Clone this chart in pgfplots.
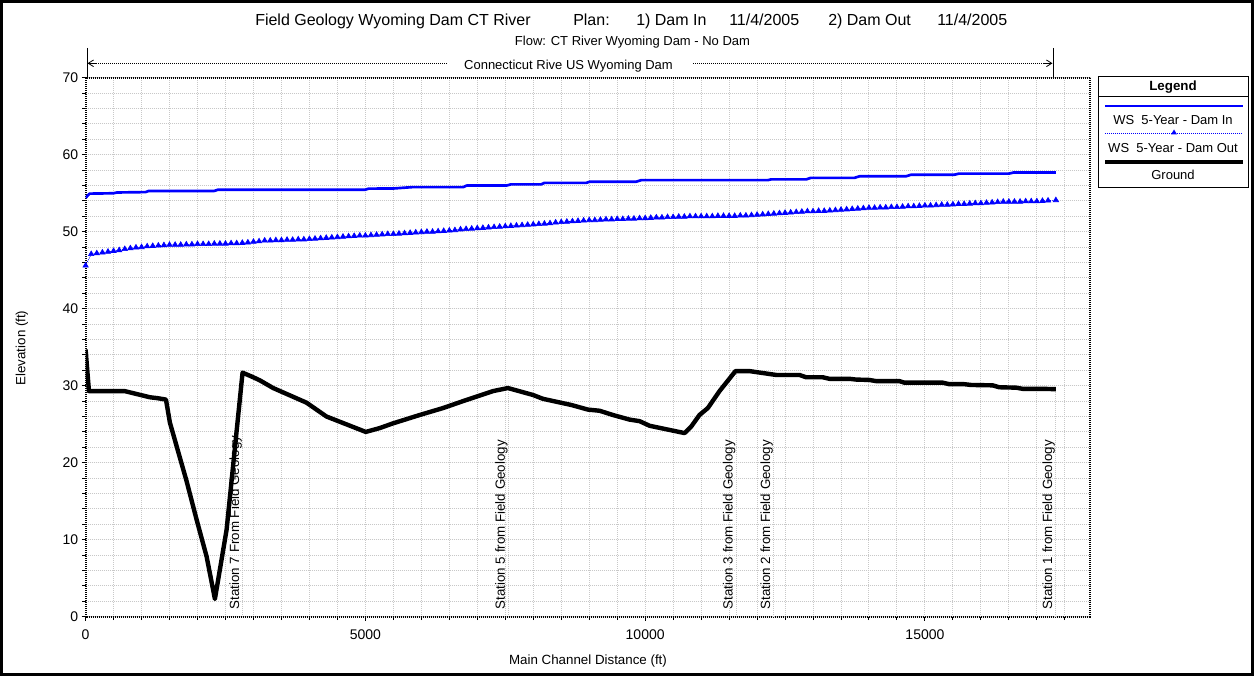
\documentclass[border=0pt]{standalone}
\usepackage{pgfplots}
\pgfplotsset{compat=1.18}
\usepackage{fontspec}
\setmainfont{Liberation Sans}
\usetikzlibrary{arrows.meta}
\definecolor{gridgray}{RGB}{200,200,200}
\begin{document}
\begin{tikzpicture}[x=0.75pt,y=0.75pt]
\useasboundingbox (0,0) rectangle (1254,676);
\draw[line width=2.25pt] (1.5,1.5) rectangle (1252.5,674.5);
% title
\begin{scope}[every node/.style={inner sep=0pt, anchor=base west, font=\fontsize{12}{14}\selectfont}]
\node at (255,650) {Field Geology Wyoming Dam CT River};
\node at (573,650) {Plan:};
\node at (636,650) {1) Dam In};
\node at (729,650) {11/4/2005};
\node at (828,650) {2) Dam Out};
\node at (937,650) {11/4/2005};
\end{scope}
\node[inner sep=0pt, anchor=base, font=\fontsize{9.75}{12}\selectfont] at (632.5,630.3) {Flow: CT River Wyoming Dam - No Dam};
% reach bar
\draw[dash pattern=on 0.75pt off 0.75pt, line width=0.6pt] (88,612.7) -- (447,612.7);
\draw[dash pattern=on 0.75pt off 0.75pt, line width=0.6pt] (693,612.7) -- (1052,612.7);
\draw[line width=0.6pt, -{Straight Barb[length=4pt,width=5pt]}] (96,612.7) -- (87.5,612.7);
\draw[line width=0.6pt, -{Straight Barb[length=4pt,width=5pt]}] (1044,612.7) -- (1052.5,612.7);
\draw[line width=0.75pt] (87,628) -- (87,598.7);
\draw[line width=0.75pt] (1053,628) -- (1053,598.7);
\node[inner sep=0pt, anchor=base, font=\fontsize{9.75}{12}\selectfont] at (568.5,606) {Connecticut Rive US Wyoming Dam};
% axis labels
\node[font=\fontsize{10}{12}\selectfont] at (588,15) {Main Channel Distance (ft)};
\node[rotate=90, font=\fontsize{10}{12}\selectfont] at (22,328) {Elevation (ft)};

\begin{axis}[
  at={(64.2pt,44.475pt)}, anchor=south west, scale only axis,
  width=753.3pt, height=404.2pt,
  xmin=0, xmax=17950, ymin=0, ymax=70,
  xtick={0,5000,10000,15000},
  minor xtick={500,1000,...,17500},
  ytick={0,10,...,70},
  minor ytick={2,4,...,68},
  grid=both,
  major grid style={gridgray, dash pattern=on 0.75pt off 0.75pt, line width=0.75pt},
  minor grid style={gridgray, dash pattern=on 0.75pt off 0.75pt, line width=0.75pt},
  axis line style={black, dash pattern=on 0.75pt off 0.75pt, line width=1.5pt},
  tick align=outside, tick pos=left,
  major tick length=3pt, minor tick length=2.5pt,
  every tick/.style={black, line width=0.75pt},
  scaled x ticks=false,
  /pgf/number format/1000 sep={},
  /pgf/number format/assume math mode=true,
  tick label style={font=\fontsize{10.5}{12}\selectfont},
  xticklabel style={yshift=-3pt},
  yticklabel style={xshift=1pt},
]
% station lines
\addplot[gridgray, dash pattern=on 0.75pt off 0.75pt, line width=0.75pt] coordinates {(2810,0) (2810,31.7)};
\addplot[gridgray, dash pattern=on 0.75pt off 0.75pt, line width=0.75pt] coordinates {(7560,0) (7560,29.7)};
\addplot[gridgray, dash pattern=on 0.75pt off 0.75pt, line width=0.75pt] coordinates {(11630,0) (11630,31.9)};
\addplot[gridgray, dash pattern=on 0.75pt off 0.75pt, line width=0.75pt] coordinates {(12300,0) (12300,31.5)};
\addplot[gridgray, dash pattern=on 0.75pt off 0.75pt, line width=0.75pt] coordinates {(17340,0) (17340,29.55)};
% ground
\addplot[black, line width=3.3pt, line join=round] coordinates {
(0,34.7) (60,29.3) (700,29.3) (1150,28.5) (1270,28.4) (1436,28.2) (1507,25.2)
(1805,17.6) (1984,12.6) (2163,7.8) (2311,2.3) (2520,11.3) (2805,31.7) (2966,31.2)
(3114,30.7) (3352,29.7) (3948,27.8) (4305,26.0) (5007,24.0) (5257,24.5) (5489,25.1)
(5971,26.2) (6388,27.1) (6745,28.0) (7280,29.3) (7548,29.7) (7995,28.8) (8173,28.3)
(8680,27.5) (8977,26.9) (9186,26.75) (9423,26.2) (9721,25.6) (9900,25.4) (10079,24.8)
(10704,23.85) (10823,24.7) (10971,26.2) (11120,27.1) (11329,29.3) (11614,31.9)
(11864,31.9) (12102,31.65) (12341,31.4) (12757,31.4) (12877,31.1) (13173,31.1)
(13293,30.9) (13650,30.9) (13770,30.8) (14007,30.75) (14127,30.6) (14543,30.6)
(14632,30.4) (15316,30.4) (15436,30.2) (15704,30.2) (15823,30.1) (16209,30.05)
(16329,29.8) (16627,29.75) (16745,29.6) (17102,29.6) (17340,29.55)
};
% WS Dam Out
\addplot[blue, line width=0.5pt, dash pattern=on 0.75pt off 0.75pt, mark=triangle*, mark size=2.3pt, mark options={solid, fill=blue}] coordinates {
(0,45.6) (100,47.1) (200,47.2) (300,47.3) (400,47.4) (500,47.5) (600,47.6) (700,47.75) (800,47.85) (900,47.95)
(1000,48.0) (1100,48.1) (1200,48.15) (1300,48.2) (1400,48.25) (1500,48.3) (1600,48.3) (1700,48.3) (1800,48.35) (1900,48.35)
(2000,48.4) (2100,48.4) (2200,48.4) (2300,48.45) (2400,48.45) (2500,48.45) (2600,48.5) (2700,48.5) (2800,48.55) (2900,48.6)
(3000,48.7) (3100,48.75) (3200,48.85) (3300,48.85) (3400,48.9) (3500,48.9) (3600,48.95) (3700,48.95) (3800,49.0) (3900,49.0)
(4000,49.05) (4100,49.1) (4200,49.15) (4300,49.2) (4400,49.25) (4500,49.3) (4600,49.35) (4700,49.4) (4800,49.45) (4900,49.5)
(5000,49.5) (5100,49.55) (5200,49.6) (5300,49.65) (5400,49.7) (5500,49.7) (5600,49.75) (5700,49.8) (5800,49.85) (5900,49.9)
(6000,49.95) (6100,50.0) (6200,50.0) (6300,50.05) (6400,50.1) (6500,50.15) (6600,50.2) (6700,50.3) (6800,50.35) (6900,50.4)
(7000,50.45) (7100,50.5) (7200,50.55) (7300,50.6) (7400,50.65) (7500,50.7) (7600,50.75) (7700,50.8) (7800,50.85) (7900,50.9)
(8000,50.95) (8100,51.0) (8200,51.05) (8300,51.1) (8400,51.2) (8500,51.25) (8600,51.3) (8700,51.35) (8800,51.4) (8900,51.45)
(9000,51.5) (9100,51.5) (9200,51.55) (9300,51.6) (9400,51.6) (9500,51.65) (9600,51.65) (9700,51.7) (9800,51.7) (9900,51.75)
(10000,51.75) (10100,51.8) (10200,51.85) (10300,51.85) (10400,51.9) (10500,51.9) (10600,51.95) (10700,51.95) (10800,52.0) (10900,52.0)
(11000,52.0) (11100,52.0) (11200,52.0) (11300,52.05) (11400,52.05) (11500,52.05) (11600,52.05) (11700,52.1) (11800,52.1) (11900,52.15)
(12000,52.2) (12100,52.25) (12200,52.3) (12300,52.35) (12400,52.4) (12500,52.45) (12600,52.5) (12700,52.55) (12800,52.6) (12900,52.65)
(13000,52.65) (13100,52.7) (13200,52.7) (13300,52.75) (13400,52.8) (13500,52.85) (13600,52.9) (13700,52.95) (13800,53.0) (13900,53.05)
(14000,53.1) (14100,53.1) (14200,53.15) (14300,53.15) (14400,53.2) (14500,53.2) (14600,53.25) (14700,53.3) (14800,53.3) (14900,53.35)
(15000,53.4) (15100,53.4) (15200,53.45) (15300,53.5) (15400,53.5) (15500,53.55) (15600,53.6) (15700,53.6) (15800,53.65) (15900,53.7)
(16000,53.7) (16100,53.75) (16200,53.8) (16300,53.85) (16400,53.9) (16500,53.9) (16600,53.9) (16700,53.9) (16800,53.95) (16900,53.95)
(17000,53.95) (17100,54.0) (17200,54.05) (17340,54.1)
};
% WS Dam In
\addplot[blue, line width=2pt, line join=round] coordinates {
(0,54.4) (70,54.95) (500,55.0) (560,55.1) (1070,55.15) (1130,55.3) (2300,55.3) (2360,55.45)
(4990,55.45) (5060,55.6) (5500,55.62) (5850,55.8) (6750,55.8) (6810,56.0) (7520,56.0)
(7600,56.15) (8140,56.15) (8200,56.35) (8950,56.35) (9010,56.5) (9840,56.5) (9930,56.7)
(12190,56.7) (12250,56.8) (12880,56.8) (12960,57.0) (13740,57.0) (13830,57.2) (14660,57.2)
(14750,57.4) (15520,57.4) (15610,57.55) (16500,57.55) (16590,57.7) (17340,57.7)
};
% station labels
\begin{scope}[every node/.style={rotate=90, anchor=south west, inner sep=0.5pt, font=\fontsize{10}{12}\selectfont}]
\node at (axis cs:2810,0.85) {Station 7 From Field Geology};
\node at (axis cs:7560,0.85) {Station 5 from Field Geology};
\node at (axis cs:11630,0.85) {Station 3 from Field Geology};
\node at (axis cs:12300,0.85) {Station 2 from Field Geology};
\node at (axis cs:17340,0.85) {Station 1 from Field Geology};
\end{scope}
\end{axis}

% legend
\draw[line width=0.75pt] (1098,599) rectangle (1248,488);
\draw[line width=0.75pt] (1098,579) -- (1248,579);
\node[font=\bfseries\fontsize{10}{12}\selectfont] at (1173,589) {Legend};
\draw[blue, line width=2pt] (1105,570) -- (1243,570);
\node[font=\fontsize{9.75}{12}\selectfont] at (1173,556) {WS\ \ 5-Year - Dam In};
\draw[blue, line width=0.5pt, dash pattern=on 0.75pt off 0.75pt] (1105,543) -- (1243,543);
\fill[blue] (1174,546.5) -- (1171,541.5) -- (1177,541.5) -- cycle;
\node[font=\fontsize{9.75}{12}\selectfont] at (1173,528) {WS\ \ 5-Year - Dam Out};
\draw[black, line width=3.3pt] (1105,514) -- (1243,514);
\node[font=\fontsize{9.75}{12}\selectfont] at (1173,501) {Ground};
\end{tikzpicture}
\end{document}
